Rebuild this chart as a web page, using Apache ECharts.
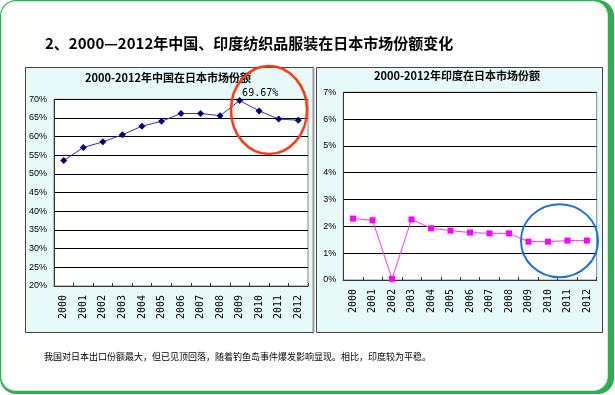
<!DOCTYPE html>
<html><head><meta charset="utf-8">
<script src="https://cdn.jsdelivr.net/npm/echarts@6/dist/echarts.min.js"></script>
<style>html,body{margin:0;padding:0;background:#fff}#c{width:615px;height:395px}</style>
</head><body><div id="c"></div>
<script>
var years = ['2000','2001','2002','2003','2004','2005','2006','2007','2008','2009','2010','2011','2012'];
var chinaShare = [53.6, 57.1, 58.6, 60.5, 62.8, 64.1, 66.2, 66.2, 65.6, 69.67, 66.9, 64.7, 64.4];
var indiaShare = [2.29, 2.23, 0.04, 2.26, 1.93, 1.84, 1.77, 1.74, 1.74, 1.43, 1.43, 1.47, 1.47];
var mainTitle = '2、2000—2012年中国、印度纺织品服装在日本市场份额变化';
var chinaTitle = '2000-2012年中国在日本市场份额';
var indiaTitle = '2000-2012年印度在日本市场份额';
var footNote = '我国对日本出口份额最大，但已见顶回落，随着钓鱼岛事件爆发影响显现。相比，印度较为平稳。';
var chinaLabelIdx = 9;

var chart = echarts.init(document.getElementById('c'), null, {renderer:'canvas'});
var cjk = '"Noto Sans CJK SC", sans-serif';
var axisLbl = {fontSize: 9, color: '#000', fontFamily: 'Liberation Sans'};
var xLbl = {rotate: 90, fontSize: 10, color: '#000', fontFamily: 'DejaVu Sans Mono', margin: 9, interval: 0};

function yAxis(gi, min, max, itv) {
  return {type:'value', gridIndex: gi, min: min, max: max, interval: itv,
    axisLine:{show:true, lineStyle:{color:'#333', width:1}},
    axisTick:{show:false},
    axisLabel: Object.assign({formatter: '{value}%', margin: 7}, axisLbl),
    splitLine:{show:true, lineStyle:{color:'#000', width:1}}};
}
function xAxis(gi) {
  return {type:'category', gridIndex: gi, data: years, boundaryGap: true,
    axisLine:{show:true, lineStyle:{color:'#333', width:1}},
    axisTick:{show:true, inside:true, length:3, lineStyle:{color:'#333'}},
    axisLabel: xLbl, splitLine:{show:false}};
}

var option = {
  animation: false,
  graphic: [
    {type:'rect', shape:{x:0, y:0, width:614, height:394, r:16}, style:{fill:'#2fae4e'}, z:-10},
    {type:'rect', shape:{x:1.5, y:1.5, width:606, height:389, r:14}, style:{fill:'#fff', stroke:'#c9eedb', lineWidth:1}, z:-9},
    {type:'rect', shape:{x:25.5, y:67.5, width:288, height:265}, style:{fill:'#e7f9f9', stroke:'#444', lineWidth:1}, z:-8},
    {type:'rect', shape:{x:316.5, y:67.5, width:286, height:265}, style:{fill:'#e7f9f9', stroke:'#444', lineWidth:1}, z:-8},
    {type:'line', shape:{x1:313.5, y1:68, x2:313.5, y2:332}, style:{stroke:'#999', lineWidth:2}, z:-7},
    {type:'text', x:45, y:43, style:{text: mainTitle, font:'bold 15px '+cjk, fill:'#000', verticalAlign:'middle'}},
    {type:'text', x:168, y:78, style:{text: chinaTitle, font:'bold 11px '+cjk, fill:'#000', align:'center', verticalAlign:'middle'}},
    {type:'text', x:457, y:76, style:{text: indiaTitle, font:'bold 11px '+cjk, fill:'#000', align:'center', verticalAlign:'middle'}},
    {type:'text', x:44, y:357, style:{text: footNote, font:'9px '+cjk, fill:'#000', verticalAlign:'middle'}},
    {type:'ellipse', shape:{cx:269, cy:110, rx:38, ry:44}, style:{fill:'none', stroke:'#ff3a10', lineWidth:2.5}, z:100},
    {type:'ellipse', shape:{cx:559.5, cy:240.7, rx:38.5, ry:36.5}, style:{fill:'none', stroke:'#1a6fe6', lineWidth:2}, z:100}
  ],
  grid: [
    {left:54, top:99.3, width:254, height:186.7, show:true, backgroundColor:'#fff', borderColor:'#888', borderWidth:1},
    {left:343.3, top:92.3, width:253.4, height:187.7, show:true, backgroundColor:'#fff', borderColor:'#888', borderWidth:1}
  ],
  xAxis: [xAxis(0), xAxis(1)],
  yAxis: [yAxis(0, 20, 70, 5), yAxis(1, 0, 7, 1)],
  series: [
    {type:'line', xAxisIndex:0, yAxisIndex:0, data: chinaShare.map(function(v,i){
        var d = {value:v};
        if (i === chinaLabelIdx) d.label = {show:true, formatter: function(p){return p.value.toFixed(2)+'%';}, position:[6,-9], fontSize:10, color:'#000', fontFamily:'DejaVu Sans Mono'};
        return d;}),
      symbol:'diamond', symbolSize:7, itemStyle:{color:'#000080'},
      lineStyle:{color:'#3333aa', width:1}},
    {type:'line', xAxisIndex:1, yAxisIndex:1, data: indiaShare,
      symbol:'rect', symbolSize:6, itemStyle:{color:'#ff00ff'},
      lineStyle:{color:'#ff33ff', width:1}}
  ]
};
chart.setOption(option);
</script></body></html>
